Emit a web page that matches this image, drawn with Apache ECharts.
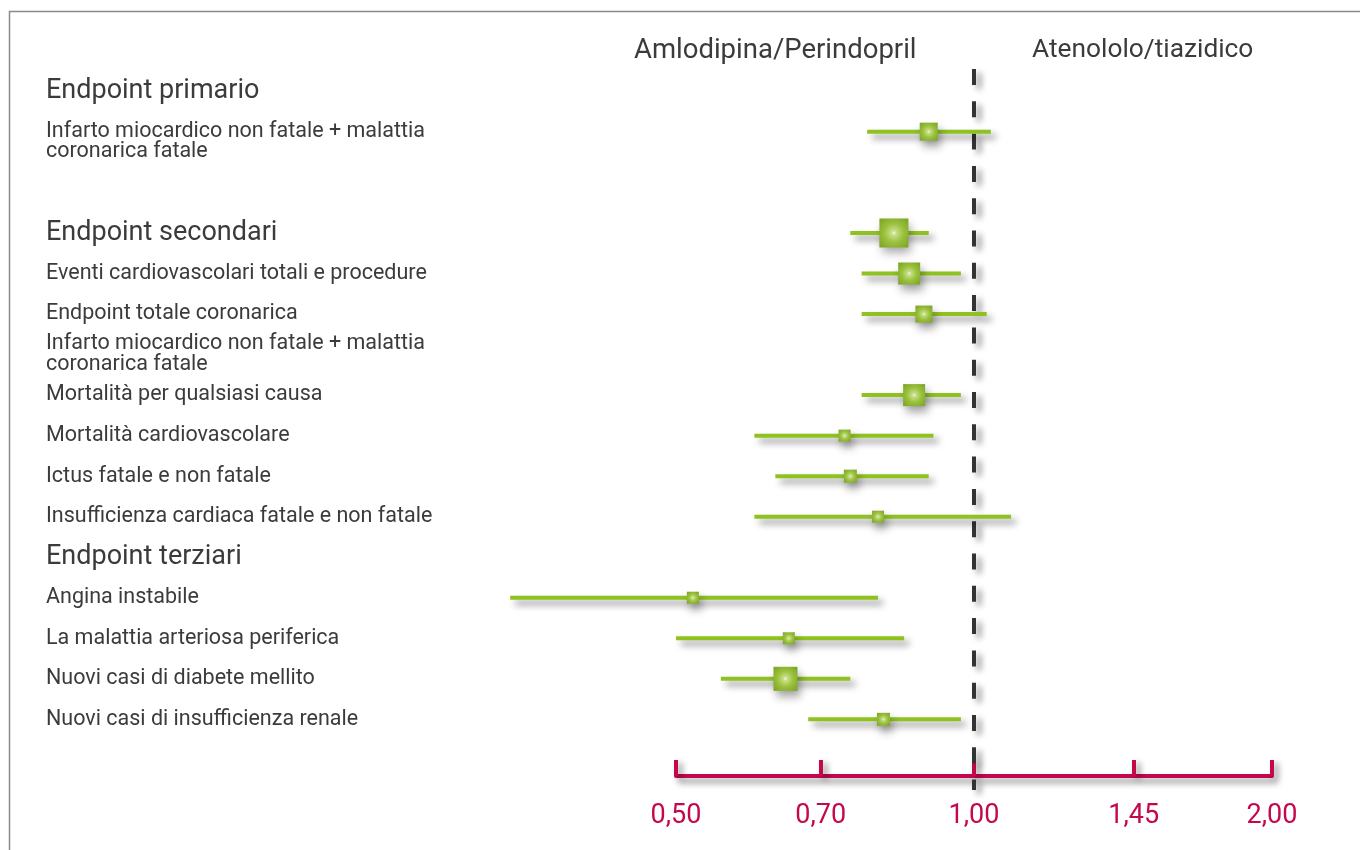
<!DOCTYPE html>
<html>
<head>
<meta charset="utf-8">
<title>ASCOT - endpoint</title>
<script src="https://cdn.jsdelivr.net/npm/echarts@6/dist/echarts.min.js"></script>
<style>
  html, body { margin: 0; padding: 0; background: #fff; }
  #chart { width: 1360px; height: 850px; }
</style>
</head>
<body>
<div id="chart"></div>
<script>
// row labels on the left, blank strings are spacer rows
const rowLabels = [
  'Endpoint primario', '',
  'Infarto miocardico non fatale + malattia', 'coronarica fatale',
  '', '', '',
  'Endpoint secondari', '',
  'Eventi cardiovascolari totali e procedure', '',
  'Endpoint totale coronarica', '',
  'Infarto miocardico non fatale + malattia\ncoronarica fatale', '',
  'Mortalità per qualsiasi causa', '',
  'Mortalità cardiovascolare', '',
  'Ictus fatale e non fatale', '',
  'Insufficienza cardiaca fatale e non fatale', '',
  'Endpoint terziari', '',
  'Angina instabile', '',
  'La malattia arteriosa periferica', '',
  'Nuovi casi di diabete mellito', '',
  'Nuovi casi di insufficienza renale', '', ''
]
const headerRows = ['Endpoint primario', 'Endpoint secondari', 'Endpoint terziari']

// rows that carry a hazard ratio marker
const endpoints = [
  'Infarto miocardico non fatale + malattia',
  'Endpoint secondari',
  'Eventi cardiovascolari totali e procedure',
  'Endpoint totale coronarica',
  'Mortalità per qualsiasi causa',
  'Mortalità cardiovascolare',
  'Ictus fatale e non fatale',
  'Insufficienza cardiaca fatale e non fatale',
  'Angina instabile',
  'La malattia arteriosa periferica',
  'Nuovi casi di diabete mellito',
  'Nuovi casi di insufficienza renale'
]
const hazardRatio = [0.90, 0.83, 0.86, 0.89, 0.87, 0.74, 0.75, 0.80, 0.52, 0.65, 0.645, 0.81]
const ciLow = [0.78, 0.75, 0.77, 0.77, 0.77, 0.60, 0.63, 0.60, 0.34, 0.50, 0.555, 0.68]
const ciHigh = [1.04, 0.90, 0.97, 1.03, 0.97, 0.91, 0.90, 1.09, 0.80, 0.85, 0.75, 0.97]
const studyWeight = [18, 29, 22, 17, 22, 12, 13, 12, 12, 12, 24, 13] // square side

const tickValues = [0.5, 0.7, 1.0, 1.45, 2.0]
const referenceHR = [1.0]
const groupNames = ['Amlodipina/Perindopril', 'Atenololo/tiazidico']

const FONT = 'Roboto, "Noto Sans", sans-serif'
const TEXT = '#3b3b3b'
const RED = '#c5084e'
const GREEN = '#8fc21f'
const SHADOW = 'rgba(0,0,0,0.45)'

const chart = echarts.init(document.getElementById('chart'), null, { renderer: 'canvas' })

function renderMarker(params, api) {
  const row = api.value(0)
  const c = api.coord([api.value(1), row])
  const lo = api.coord([api.value(2), row])
  const hi = api.coord([api.value(3), row])
  const s = api.value(4)
  return {
    type: 'group',
    children: [
      {
        type: 'line',
        shape: { x1: lo[0], y1: c[1], x2: hi[0], y2: c[1] },
        style: {
          stroke: GREEN, lineWidth: 4,
          shadowColor: SHADOW, shadowBlur: 7, shadowOffsetX: 5, shadowOffsetY: 5
        }
      },
      {
        type: 'rect',
        shape: { x: c[0] - s / 2, y: c[1] - s / 2, width: s, height: s },
        style: {
          fill: {
            type: 'radial', x: 0.5, y: 0.5, r: 0.72,
            colorStops: [
              { offset: 0, color: '#f1f7e2' },
              { offset: 0.12, color: '#c6de8a' },
              { offset: 0.45, color: '#9cc23e' },
              { offset: 1, color: '#76a020' }
            ]
          },
          shadowColor: 'rgba(0,0,0,0.35)', shadowBlur: 9, shadowOffsetX: 3, shadowOffsetY: 6
        }
      }
    ]
  }
}

function renderReference(params, api) {
  const x = api.coord([api.value(0), 0])[0]
  const cs = params.coordSys
  return {
    type: 'line',
    shape: { x1: x, y1: cs.y - 12, x2: x, y2: cs.y + cs.height + 20 },
    style: {
      stroke: '#333333', lineWidth: 4, lineDash: [16, 16.3],
      shadowColor: SHADOW, shadowBlur: 6, shadowOffsetX: 5, shadowOffsetY: 4
    }
  }
}

chart.setOption({
  backgroundColor: '#fff',
  animation: false,
  textStyle: { fontFamily: FONT },
  title: [
    {
      text: groupNames[0], left: 634, top: 37, padding: 0,
      textStyle: { fontFamily: FONT, fontSize: 27.5, fontWeight: 'normal', color: TEXT }
    },
    {
      text: groupNames[1], left: 1032, top: 37, padding: 0,
      textStyle: { fontFamily: FONT, fontSize: 26.3, fontWeight: 'normal', color: TEXT }
    }
  ],
  graphic: [
    {
      type: 'rect', silent: true, z: -1,
      shape: { x: 9.5, y: 11.5, width: 1400, height: 900 },
      style: { fill: null, stroke: '#8a8a8a', lineWidth: 1.5 }
    }
  ],
  grid: {
    left: 676,
    right: 88,
    top: 81,
    height: 689
  },
  xAxis: {
    type: 'value',
    min: Math.log(0.5),
    max: Math.log(2),
    offset: 6,
    splitLine: { show: false },
    axisLine: {
      show: true,
      lineStyle: {
        color: RED, width: 4,
        shadowColor: SHADOW, shadowBlur: 6, shadowOffsetX: 4, shadowOffsetY: 5
      }
    },
    axisTick: {
      show: true,
      inside: true,
      length: 16,
      customValues: tickValues.map(Math.log),
      lineStyle: {
        color: RED, width: 4,
        shadowColor: SHADOW, shadowBlur: 6, shadowOffsetX: 4, shadowOffsetY: 3
      }
    },
    axisLabel: {
      customValues: tickValues.map(Math.log),
      margin: 27,
      fontFamily: FONT,
      fontSize: 27,
      color: RED,
      formatter: v => Math.exp(v).toFixed(2).replace('.', ',')
    }
  },
  yAxis: {
    type: 'category',
    inverse: true,
    data: rowLabels,
    axisLine: { show: false },
    axisTick: { show: false },
    splitLine: { show: false },
    axisLabel: {
      interval: 0,
      align: 'left',
      margin: 630,
      formatter: v => v === '' ? '' : (headerRows.includes(v) ? '{h|' + v + '}' : '{i|' + v + '}'),
      rich: {
        h: { fontFamily: FONT, fontSize: 27, color: TEXT },
        i: { fontFamily: FONT, fontSize: 21.5, lineHeight: 21, color: TEXT }
      }
    }
  },
  series: [
    {
      type: 'custom',
      name: 'riferimento',
      clip: false,
      z: 2,
      renderItem: renderReference,
      encode: { x: 0 },
      data: referenceHR.map(v => [Math.log(v)])
    },
    {
      type: 'custom',
      name: 'hazard ratio',
      clip: false,
      z: 3,
      renderItem: renderMarker,
      encode: { y: 0, x: [1, 2, 3] },
      data: endpoints.map((name, i) => [
        rowLabels.indexOf(name),
        Math.log(hazardRatio[i]),
        Math.log(ciLow[i]),
        Math.log(ciHigh[i]),
        studyWeight[i]
      ])
    }
  ]
})
</script>
</body>
</html>
